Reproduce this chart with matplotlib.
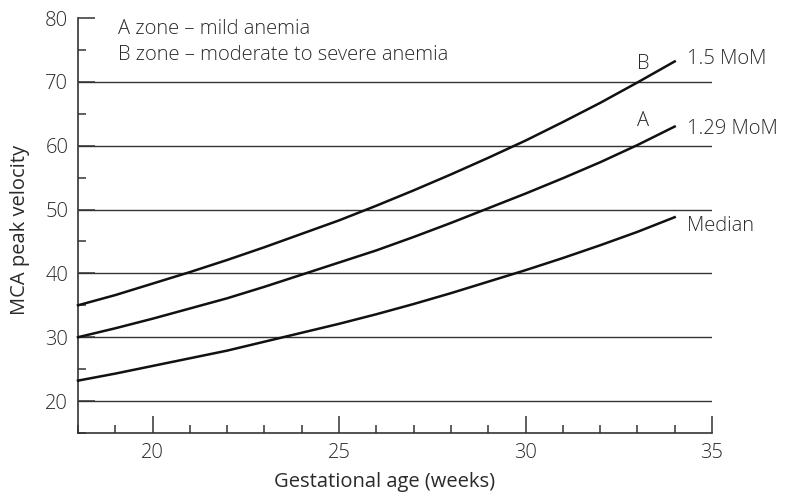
import matplotlib
matplotlib.use("Agg")
import matplotlib.pyplot as plt
from matplotlib.ticker import MultipleLocator

plt.rcParams['font.family'] = ['Open Sans', 'DejaVu Sans']
plt.rcParams['font.weight'] = 'light'

weeks = [18, 19, 20, 21, 22, 23, 24, 25, 26, 27, 28, 29, 30, 31, 32, 33, 34]
median = [23.2, 24.3, 25.5, 26.7, 27.9, 29.3, 30.7, 32.1, 33.6, 35.2, 36.9, 38.7, 40.5, 42.4, 44.4, 46.5, 48.8]
mom129 = [30.0, 31.4, 32.9, 34.5, 36.1, 37.9, 39.8, 41.7, 43.6, 45.7, 47.9, 50.2, 52.5, 54.9, 57.4, 60.1, 63.0]
mom15 = [35.0, 36.6, 38.4, 40.2, 42.1, 44.1, 46.2, 48.3, 50.6, 53.0, 55.5, 58.1, 60.8, 63.7, 66.7, 69.9, 73.2]
series_labels = ["Median", "1.29 MoM", "1.5 MoM"]
label_dy = [-6.5, -2.0, 1.5]
zone_labels = ["A", "B"]
zone_label_pos = [(33.15, 63.9), (33.15, 72.8)]
x_ticks = [20, 25, 30, 35]
y_ticks = [20, 30, 40, 50, 60, 70, 80]
grid_levels = [20, 30, 40, 50, 60, 70]
legend_lines = ["A zone \u2013 mild anemia", "B zone \u2013 moderate to severe anemia"]

FS = 14.5
TXT = '#2a2a2a'

fig = plt.figure(figsize=(7.91, 4.95), dpi=100)
ax = fig.add_axes([0.0986, 0.1253, 0.8015, 0.8383])
ax.set_xlim(18, 35)
ax.set_ylim(15, 80)

ax.hlines(grid_levels, 18, 35, colors='#333333', linewidth=1.0, zorder=1)

for ys in (median, mom129, mom15):
    ax.plot(weeks, ys, color='#111111', linewidth=1.8, zorder=3, clip_on=False)

for ys, lab, dy in zip((median, mom129, mom15), series_labels, label_dy):
    ax.annotate(lab, (weeks[-1], ys[-1]), xytext=(9, dy), textcoords='offset points',
                fontsize=FS, color=TXT, va='center', ha='left', annotation_clip=False)

for lab, (zx, zy) in zip(zone_labels, zone_label_pos):
    ax.text(zx, zy, lab, fontsize=FS, color=TXT, ha='center', va='center')

ax.text(0.0635, 0.9735, legend_lines[0], transform=ax.transAxes, fontsize=FS,
        color=TXT, ha='left', va='center')
ax.text(0.0635, 0.911, legend_lines[1], transform=ax.transAxes, fontsize=FS,
        color=TXT, ha='left', va='center')

for s in ['top', 'right']:
    ax.spines[s].set_visible(False)
for s in ['left', 'bottom']:
    ax.spines[s].set_linewidth(1.2)
    ax.spines[s].set_color('#333333')

ax.set_xticks(x_ticks)
ax.set_yticks(y_ticks)
ax.xaxis.set_minor_locator(MultipleLocator(1))
ax.yaxis.set_minor_locator(MultipleLocator(5))
ax.tick_params(axis='both', which='major', direction='in', length=12, width=1.1,
               color='#333333', labelsize=FS, labelcolor=TXT)
ax.tick_params(axis='both', which='minor', direction='in', length=6, width=1.1, color='#333333')
ax.tick_params(axis='x', which='major', pad=7)
ax.tick_params(axis='y', which='major', pad=7)
for t in ax.xaxis.get_major_ticks() + ax.yaxis.get_major_ticks():
    t.tick1line.set_clip_on(False)

ax.set_xlabel("Gestational age (weeks)", fontsize=FS, color=TXT)
ax.set_ylabel("MCA peak velocity", fontsize=FS, color=TXT)
ax.xaxis.set_label_coords(0.484, -0.095)
ax.yaxis.set_label_coords(-0.075, 0.49)

fig.savefig("out.png", dpi=100)
